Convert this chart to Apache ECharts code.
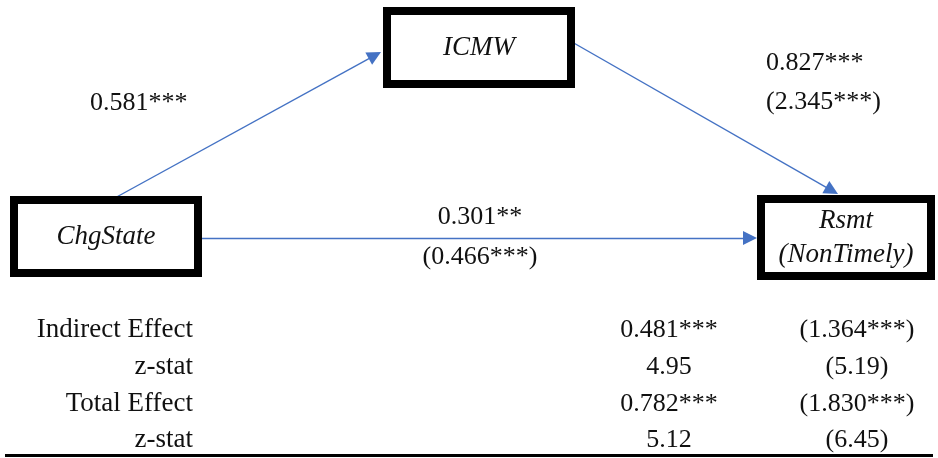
<!DOCTYPE html>
<html>
<head>
<meta charset="utf-8">
<script src="https://cdn.jsdelivr.net/npm/echarts@6/dist/echarts.min.js"></script>
<style>
  html, body { margin: 0; padding: 0; background: #fff; }
  #chart { width: 938px; height: 458px; }
</style>
</head>
<body>
<div id="chart"></div>
<script>
// Mediation model: variables, path coefficients and effect table
const nodeNames = ['ChgState', 'ICMW', 'Rsmt\n(NonTimely)'];
const pathA = ['0.581***'];                 // ChgState -> ICMW
const pathB = ['0.827***', '(2.345***)'];   // ICMW -> Rsmt
const pathC = ['0.301**', '(0.466***)'];    // ChgState -> Rsmt (direct)
const rowLabels = ['Indirect Effect', 'z-stat', 'Total Effect', 'z-stat'];
const effectCol1 = ['0.481***', '4.95', '0.782***', '5.12'];
const effectCol2 = ['(1.364***)', '(5.19)', '(1.830***)', '(6.45)'];

const W = 938, H = 458;
const serif = '"Liberation Serif", "Times New Roman", serif';
const ink = '#111111';
const blue = '#4472C4';

// Box layout (centre and size, in canvas units)
const boxes = [
  { cx: 106, cy: 236.5, w: 184, h: 73 },
  { cx: 479, cy: 47.5, w: 184, h: 73 },
  { cx: 846, cy: 237.5, w: 170, h: 77 }
];
const bw = 8;
const edgeOf = (b, side) => {
  const o = bw / 2;
  if (side === 'top') return b.cy - b.h / 2 - o;
  if (side === 'bottom') return b.cy + b.h / 2 + o;
  if (side === 'left') return b.cx - b.w / 2 - o;
  return b.cx + b.w / 2 + o;
};

// Arrowhead is a triangle centred on the line end; pull the end back
// by half its length so the tip lands on the target point.
const headLen = 14;
function tipAt(from, tip) {
  const dx = tip[0] - from[0], dy = tip[1] - from[1];
  const len = Math.hypot(dx, dy);
  const k = (headLen / 2) / len;
  return [from, [tip[0] - dx * k, tip[1] - dy * k]];
}

const arrows = [
  tipAt([113, edgeOf(boxes[0], 'top') + 3], [edgeOf(boxes[1], 'left') - 2, 52]),
  tipAt([edgeOf(boxes[1], 'right') - 3, 42], [838, edgeOf(boxes[2], 'top') - 1]),
  tipAt([edgeOf(boxes[0], 'right'), 238], [edgeOf(boxes[2], 'left'), 238])
];

function labelSeries(points, align, fontSize) {
  const pos = align === 'right' ? 'left' : (align === 'left' ? 'right' : 'inside');
  return {
    type: 'scatter',
    symbolSize: 0,
    silent: true,
    itemStyle: { opacity: 1 },
    data: points.map(p => ({ value: [p.x, p.y], text: p.text })),
    label: {
      show: true,
      position: pos,
      distance: 0,
      formatter: d => d.data.text,
      fontFamily: serif,
      fontSize: fontSize || 26,
      color: ink
    }
  };
}

const tableY = [330, 367, 404, 440];

const option = {
  animation: false,
  backgroundColor: '#fff',
  grid: { left: 0, right: 0, top: 0, bottom: 0 },
  xAxis: { type: 'value', min: 0, max: W, show: false },
  yAxis: { type: 'value', min: 0, max: H, inverse: true, show: false },
  series: [
    // path arrows
    {
      type: 'lines',
      coordinateSystem: 'cartesian2d',
      symbol: ['none', 'triangle'],
      symbolSize: [13, headLen],
      lineStyle: { color: blue, width: 1.4, opacity: 1, curveness: 0 },
      data: arrows.map(c => ({ coords: c })),
      z: 2
    },
    // variable boxes
    {
      type: 'custom',
      silent: true,
      z: 3,
      data: boxes.map((b, i) => [b.cx, b.cy, b.w, b.h, i]),
      renderItem: (params, api) => {
        const cx = api.value(0), cy = api.value(1);
        const w = api.value(2), h = api.value(3);
        const p0 = api.coord([cx - w / 2, cy - h / 2]);
        const p1 = api.coord([cx + w / 2, cy + h / 2]);
        const x = Math.min(p0[0], p1[0]), y = Math.min(p0[1], p1[1]);
        const rw = Math.abs(p1[0] - p0[0]), rh = Math.abs(p1[1] - p0[1]);
        return {
          type: 'group',
          children: [
            {
              type: 'rect',
              shape: { x, y, width: rw, height: rh },
              style: { fill: '#fff', stroke: '#000', lineWidth: bw }
            },
            {
              type: 'text',
              x: x + rw / 2,
              y: y + rh / 2,
              style: {
                text: nodeNames[api.value(4)],
                fontFamily: serif,
                fontStyle: 'italic',
                fontSize: 27,
                lineHeight: 34,
                fill: ink,
                align: 'center',
                verticalAlign: 'middle'
              }
            }
          ]
        };
      }
    },
    // path coefficients
    labelSeries([{ x: 90, y: 103, text: pathA[0] }], 'left'),
    labelSeries([
      { x: 766, y: 63, text: pathB[0] },
      { x: 766, y: 102, text: pathB[1] }
    ], 'left'),
    labelSeries([
      { x: 480, y: 217, text: pathC[0] },
      { x: 480, y: 257, text: pathC[1] }
    ], 'center'),
    // effect table
    labelSeries(rowLabels.map((t, i) => ({ x: 193, y: tableY[i], text: t })), 'right', 27),
    labelSeries(effectCol1.map((t, i) => ({ x: 669, y: tableY[i], text: t })), 'center'),
    labelSeries(effectCol2.map((t, i) => ({ x: 857, y: tableY[i], text: t })), 'center'),
    // table bottom rule
    {
      type: 'lines',
      coordinateSystem: 'cartesian2d',
      symbol: 'none',
      lineStyle: { color: '#000', width: 3, opacity: 1 },
      data: [{ coords: [[5, 455], [933, 455]] }]
    }
  ]
};

const chart = echarts.init(document.getElementById('chart'), null, { renderer: 'canvas' });
chart.setOption(option);
</script>
</body>
</html>
